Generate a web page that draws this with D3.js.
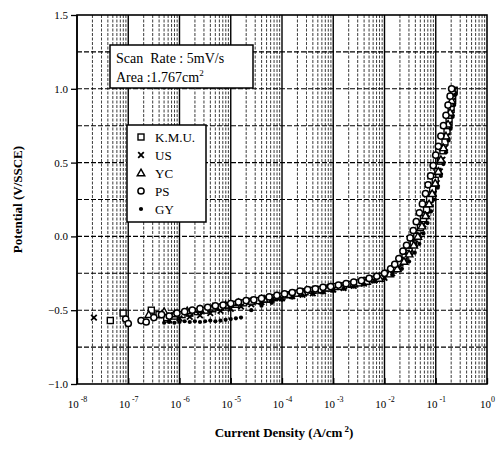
<!DOCTYPE html>
<html>
<head>
<meta charset="utf-8">
<script src="https://cdn.jsdelivr.net/npm/d3@7"></script>
<style>
  body { margin: 0; background: #fff; }
  svg text { font-family: "Liberation Serif", "Times New Roman", serif; fill: #000; }
</style>
</head>
<body>
<script>
// data: [log10 current density (A/cm2), potential (V/SSCE)]
const kmu = [[-7.35,-0.57],[-7.1,-0.52],[-6.55,-0.50],[-6.4,-0.53],[-6.25,-0.55],[-6.1,-0.54],[-5.95,-0.53],[-5.8,-0.52],
  [-5.65,-0.51],[-5.5,-0.50],[-5.35,-0.49],[-5.2,-0.48],[-5.05,-0.47],[-4.9,-0.46],[-4.75,-0.45],[-4.6,-0.44],
  [-4.45,-0.435],[-4.3,-0.425],[-4.15,-0.415],[-4.0,-0.405],[-3.85,-0.395],[-3.7,-0.385],[-3.55,-0.375],[-3.4,-0.365],
  [-3.25,-0.36],[-3.1,-0.35],[-2.95,-0.34],[-2.8,-0.335],[-2.65,-0.325],[-2.5,-0.315],[-2.35,-0.30],[-2.2,-0.29],
  [-2.05,-0.27],[-1.92,-0.25],[-1.8,-0.22],[-1.7,-0.18],[-1.6,-0.14],[-1.52,-0.10],[-1.44,-0.05],[-1.37,0.0],
  [-1.3,0.06],[-1.24,0.12],[-1.18,0.18],[-1.12,0.25],[-1.06,0.32],[-1.01,0.38],[-0.96,0.44],[-0.91,0.51],
  [-0.86,0.58],[-0.82,0.64],[-0.78,0.71],[-0.74,0.78],[-0.7,0.86],[-0.67,0.93],[-0.64,0.99]];

const us = [[-7.67,-0.55],[-6.2,-0.565],[-6.0,-0.555],[-5.8,-0.545],[-5.6,-0.535],[-5.4,-0.52],[-5.2,-0.505],[-5.0,-0.49],
  [-4.8,-0.475],[-4.6,-0.46],[-4.4,-0.445],[-4.2,-0.43],[-4.0,-0.42],[-3.8,-0.405],[-3.6,-0.395],[-3.4,-0.385],
  [-3.2,-0.37],[-3.0,-0.36],[-2.8,-0.35],[-2.6,-0.335],[-2.4,-0.32],[-2.2,-0.30],[-2.0,-0.28],[-1.85,-0.25],
  [-1.72,-0.21],[-1.6,-0.16],[-1.5,-0.11],[-1.4,-0.05],[-1.32,0.01],[-1.24,0.08],[-1.17,0.15],[-1.1,0.22],
  [-1.04,0.29],[-0.98,0.36],[-0.92,0.44],[-0.87,0.52],[-0.82,0.60],[-0.78,0.68],[-0.74,0.76],[-0.7,0.84],
  [-0.67,0.92],[-0.64,0.99]];

const yc = [[-6.6,-0.53],[-6.3,-0.51],[-6.1,-0.525],[-5.85,-0.505],[-5.6,-0.495],[-5.35,-0.48],[-5.1,-0.465],[-4.85,-0.45],
  [-4.6,-0.44],[-4.35,-0.425],[-4.1,-0.41],[-3.85,-0.395],[-3.6,-0.38],[-3.35,-0.365],[-3.1,-0.35],[-2.85,-0.34],
  [-2.6,-0.32],[-2.35,-0.305],[-2.1,-0.285],[-1.9,-0.255],[-1.75,-0.22],[-1.62,-0.17],[-1.52,-0.12],[-1.43,-0.06],
  [-1.35,0.0],[-1.27,0.07],[-1.2,0.14],[-1.13,0.22],[-1.07,0.29],[-1.01,0.36],[-0.95,0.44],[-0.9,0.52],
  [-0.85,0.6],[-0.8,0.68],[-0.76,0.76],[-0.72,0.84],[-0.69,0.92],[-0.66,0.98]];

const ps = [[-7.05,-0.56],[-7.0,-0.59],[-6.75,-0.57],[-6.65,-0.58],[-6.5,-0.55],[-6.35,-0.53],[-6.2,-0.54],[-6.05,-0.52],
  [-5.9,-0.51],[-5.75,-0.50],[-5.6,-0.49],[-5.45,-0.48],[-5.3,-0.47],[-5.15,-0.465],[-5.0,-0.455],[-4.85,-0.445],
  [-4.7,-0.435],[-4.55,-0.43],[-4.4,-0.42],[-4.25,-0.41],[-4.1,-0.40],[-3.95,-0.39],[-3.8,-0.38],[-3.65,-0.37],
  [-3.5,-0.36],[-3.35,-0.355],[-3.2,-0.345],[-3.05,-0.34],[-2.9,-0.33],[-2.75,-0.32],[-2.6,-0.31],[-2.45,-0.30],
  [-2.3,-0.285],[-2.15,-0.27],[-2.0,-0.25],[-1.88,-0.22],[-1.8,-0.19],[-1.72,-0.15],[-1.64,-0.10],[-1.57,-0.06],
  [-1.5,-0.01],[-1.44,0.04],[-1.38,0.10],[-1.32,0.16],[-1.26,0.22],[-1.2,0.29],[-1.15,0.35],[-1.1,0.41],
  [-1.05,0.48],[-1.0,0.55],[-0.95,0.61],[-0.9,0.68],[-0.85,0.75],[-0.8,0.82],[-0.76,0.89],[-0.72,0.95],[-0.69,1.0]];

const gy = [[-6.3,-0.585],[-6.2,-0.58],[-6.1,-0.585],[-6.0,-0.58],[-5.9,-0.575],[-5.8,-0.58],[-5.7,-0.575],[-5.6,-0.58],
  [-5.5,-0.575],[-5.4,-0.57],[-5.3,-0.575],[-5.2,-0.57],[-5.1,-0.565],[-5.0,-0.56],[-4.9,-0.555],[-4.8,-0.55],
  [-4.6,-0.50],[-4.4,-0.47],[-4.2,-0.45],[-4.0,-0.43],[-3.8,-0.415],[-3.6,-0.40],[-3.4,-0.39],[-3.2,-0.38],
  [-3.0,-0.37],[-2.8,-0.355],[-2.6,-0.34],[-2.4,-0.325],[-2.2,-0.305],[-2.0,-0.285],[-1.85,-0.26],[-1.66,-0.22],
  [-1.52,-0.17],[-1.41,-0.11],[-1.32,-0.05],[-1.24,0.02],[-1.16,0.09],[-1.09,0.17],[-1.02,0.25],[-0.96,0.33],
  [-0.9,0.41],[-0.85,0.49],[-0.8,0.57],[-0.75,0.65],[-0.71,0.73],[-0.67,0.81],[-0.64,0.89],[-0.62,0.96]];

const seriesNames = ["K.M.U.", "US", "YC", "PS", "GY"];
const seriesData = [kmu, us, yc, ps, gy];
const seriesSymbols = ["square", "cross", "triangle", "circle", "dot"];

const xExponents = [-8, -7, -6, -5, -4, -3, -2, -1, 0];
const yTicks = [-1.0, -0.5, 0.0, 0.5, 1.0, 1.5];
const yGrid = [-0.75, -0.5, -0.25, 0, 0.25, 0.5, 0.75, 1.0, 1.25];

let width = 502, height = 449;
let plotLeft = 77, plotRight = 487, plotTop = 15, plotBottom = 384;

let svg = d3.select("body").append("svg")
    .attr("width", width)
    .attr("height", height);

let x = d3.scaleLog().domain([1e-8, 1]).range([plotLeft, plotRight]);
let y = d3.scaleLinear().domain([-1, 1.5]).range([plotBottom, plotTop]);

//vertical grid: decades solid, 2..9 dashed
let gridX = [];
xExponents.slice(0, -1).forEach(function (e) {
    for (let k = 1; k <= 9; k++) gridX.push({ v: k * Math.pow(10, e), major: k === 1 });
});
svg.append("g").selectAll("line")
    .data(gridX)
    .enter().append("line")
    .attr("x1", d => x(d.v)).attr("x2", d => x(d.v))
    .attr("y1", plotTop).attr("y2", plotBottom)
    .attr("stroke", "#000")
    .attr("stroke-width", d => d.major ? 1.4 : 0.9)
    .attr("stroke-dasharray", d => d.major ? null : "3,1.5")
    .attr("opacity", d => d.major ? 1 : 0.85);

//horizontal grid
svg.append("g").selectAll("line")
    .data(yGrid)
    .enter().append("line")
    .attr("x1", plotLeft).attr("x2", plotRight)
    .attr("y1", d => y(d)).attr("y2", d => y(d))
    .attr("stroke", "#000")
    .attr("stroke-width", 1.1)
    .attr("stroke-dasharray", "5,2");

//axes
let xAxis = svg.append("g")
    .attr("transform", "translate(0," + plotBottom + ")")
    .call(d3.axisBottom(x).tickValues(xExponents.map(e => Math.pow(10, e)))
        .tickSizeInner(-6).tickSizeOuter(0).tickFormat(""));
xAxis.selectAll(".tick").append("text")
    .attr("y", 24)
    .attr("text-anchor", "middle")
    .style("font-size", "11px")
    .each(function (d) {
        let t = d3.select(this);
        let e = Math.round(Math.log10(d));
        t.append("tspan").text("10");
        t.append("tspan").attr("dy", -6).style("font-size", "8px").text(e === 0 ? "0" : " " + e);
    });

let yAxis = svg.append("g")
    .attr("transform", "translate(" + plotLeft + ",0)")
    .call(d3.axisLeft(y).tickValues(yTicks).tickSizeInner(6).tickSizeOuter(0)
        .tickFormat(d3.format(".1f")));
yAxis.selectAll("text").style("font-size", "11px").attr("x", -9);

svg.selectAll(".domain").remove();
svg.selectAll(".tick line").attr("stroke", "#000").attr("stroke-width", 1.3);

//frame
svg.append("rect")
    .attr("x", plotLeft).attr("y", plotTop)
    .attr("width", plotRight - plotLeft).attr("height", plotBottom - plotTop)
    .attr("fill", "none").attr("stroke", "#000").attr("stroke-width", 1.6);

//symbols
function drawSymbol(g, kind, cx, cy) {
    if (kind === "square") {
        g.append("rect").attr("x", cx - 3).attr("y", cy - 3).attr("width", 6).attr("height", 6)
            .attr("fill", "#fff").attr("stroke", "#000").attr("stroke-width", 1.4);
    } else if (kind === "cross") {
        g.append("path").attr("d", `M${cx - 2.8},${cy - 2.8}L${cx + 2.8},${cy + 2.8}M${cx - 2.8},${cy + 2.8}L${cx + 2.8},${cy - 2.8}`)
            .attr("stroke", "#000").attr("stroke-width", 1.8);
    } else if (kind === "triangle") {
        g.append("path").attr("d", `M${cx},${cy - 3.8}L${cx + 3.8},${cy + 2.8}L${cx - 3.8},${cy + 2.8}Z`)
            .attr("fill", "#fff").attr("stroke", "#000").attr("stroke-width", 1.4);
    } else if (kind === "circle") {
        g.append("circle").attr("cx", cx).attr("cy", cy).attr("r", 3.1)
            .attr("fill", "#fff").attr("stroke", "#000").attr("stroke-width", 1.5);
    } else {
        g.append("circle").attr("cx", cx).attr("cy", cy).attr("r", 2.1).attr("fill", "#000");
    }
}

let marks = svg.append("g");
seriesData.forEach(function (s, i) {
    s.forEach(function (p) {
        drawSymbol(marks, seriesSymbols[i], x(Math.pow(10, p[0])), y(p[1]));
    });
});

//info box
svg.append("rect").attr("x", 110).attr("y", 45).attr("width", 143).attr("height", 43)
    .attr("fill", "#fff").attr("stroke", "#000").attr("stroke-width", 1.5);
svg.append("text").attr("x", 116).attr("y", 63).style("font-size", "14px")
    .attr("xml:space", "preserve").text("Scan  Rate : 5mV/s");
let area = svg.append("text").attr("x", 116).attr("y", 82).style("font-size", "14px");
area.append("tspan").text("Area :1.767cm");
area.append("tspan").attr("dy", -6).style("font-size", "9px").text("2");

//legend
let legend = svg.append("g");
legend.append("rect").attr("x", 127).attr("y", 125).attr("width", 79).attr("height", 97)
    .attr("fill", "#fff").attr("stroke", "#000").attr("stroke-width", 1.5);
seriesNames.forEach(function (name, i) {
    let ly = 137 + i * 18;
    drawSymbol(legend, seriesSymbols[i], 141, ly);
    legend.append("text").attr("x", 155).attr("y", ly + 4.5).style("font-size", "13px").text(name);
});

//axis titles
svg.append("text")
    .attr("transform", "translate(22," + ((plotTop + plotBottom) / 2) + ") rotate(-90)")
    .attr("text-anchor", "middle")
    .style("font-size", "13px").style("font-weight", "bold")
    .text("Potential (V/SSCE)");

let xt = svg.append("text").attr("x", 284).attr("y", 437)
    .attr("text-anchor", "middle")
    .style("font-size", "13px").style("font-weight", "bold");
xt.append("tspan").text("Current Density (A/cm");
xt.append("tspan").attr("dy", -5).style("font-size", "9px").text(" 2");
xt.append("tspan").attr("dy", 5).text(")");
</script>
</body>
</html>
